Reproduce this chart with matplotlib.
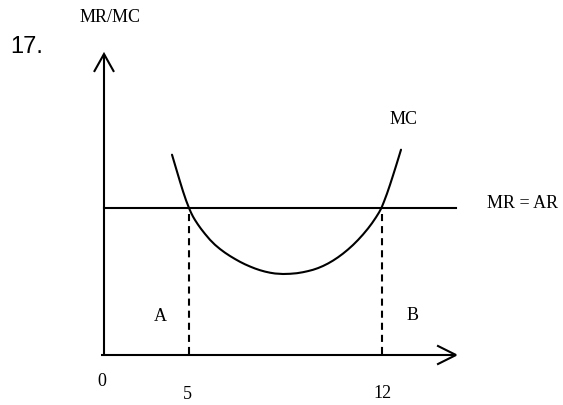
import matplotlib
matplotlib.use("Agg")
import matplotlib.pyplot as plt

# Diagram units: origin at the axes' corner, 1 unit = 10 px
mc_q = [6.80, 7.20, 7.60, 7.90, 8.20, 8.50, 8.70, 8.90, 9.10, 9.40, 9.70, 10.10,
        10.60, 11.10, 11.60, 12.10, 12.60, 13.10, 13.60, 14.10, 14.60, 15.10,
        15.60, 16.10, 16.60, 17.10, 17.90,
        18.60, 19.30, 19.90, 20.40, 20.90, 21.40, 21.90, 22.40, 22.90, 23.40,
        23.90, 24.40, 24.90, 25.40, 25.90, 26.40, 26.80, 27.20, 27.50, 27.75,
        28.00, 28.30, 28.60, 28.90, 29.20, 29.45, 29.70]
mc_p = [20.03, 18.68, 17.34, 16.37, 15.48, 14.70, 14.24, 13.84, 13.50, 13.04,
        12.62, 12.11, 11.52, 11.02, 10.60, 10.23, 9.90, 9.60, 9.32, 9.07, 8.85,
        8.65, 8.48, 8.34, 8.23, 8.15, 8.10,
        8.12, 8.18, 8.28, 8.39, 8.52, 8.69, 8.90, 9.15, 9.44, 9.77, 10.14, 10.55,
        11.00, 11.50, 12.05, 12.65, 13.18, 13.77, 14.25, 14.72, 15.34, 16.14,
        17.02, 17.95, 18.90, 19.71, 20.53]
mr_level = 14.7
mr_q_end = 35.2
q_marks = [8.5, 27.75]
q_labels = ["5", "12"]
x_axis_end = 35.2
y_axis_end = 30.1

SERIF = ["Liberation Serif", "DejaVu Serif"]
SANS = ["Liberation Sans", "DejaVu Sans"]

fig = plt.figure(figsize=(5.63, 4.06), dpi=100)
ax = fig.add_axes([0, 0, 1, 1])
ax.set_xlim(-10.4, 45.9)
ax.set_ylim(-5.0, 35.6)
ax.axis("off")

lw = 1.5
k = "black"
# axes
ax.plot([-0.3, x_axis_end], [0, 0], color=k, lw=lw, solid_capstyle="butt")
ax.plot([0, 0], [0, y_axis_end], color=k, lw=lw, solid_capstyle="butt")
# arrow heads (open V)
ax.plot([x_axis_end - 1.8, x_axis_end, x_axis_end - 1.8], [0.9, 0, -0.9],
        color=k, lw=lw, solid_joinstyle="miter")
ax.plot([-0.95, 0, 0.95], [y_axis_end - 1.7, y_axis_end, y_axis_end - 1.7],
        color=k, lw=lw, solid_joinstyle="miter")

# MR = AR line
ax.plot([0, mr_q_end], [mr_level, mr_level], color=k, lw=lw)
# MC curve
ax.plot(mc_q, mc_p, color=k, lw=lw, solid_joinstyle="round", solid_capstyle="round")
# dashed verticals
for q in q_marks:
    ax.plot([q, q], [mr_level - 0.6, 0], color=k, lw=lw, dashes=(3.4, 2.4))

fs = 13
ax.text(-2.4, 33.9, "MR/MC", family=SERIF, fontsize=fs, ha="left", va="center")
ax.text(-7.73, 30.9, "17.", family=SANS, fontsize=17, ha="center", va="center")
ax.text(28.53, 23.63, "MC", family=SERIF, fontsize=fs, ha="left", va="center")
ax.text(38.27, 15.27, "MR = AR", family=SERIF, fontsize=fs, ha="left", va="center")
ax.text(5.67, 3.93, "A", family=SERIF, fontsize=fs, ha="center", va="center")
ax.text(30.85, 4.05, "B", family=SERIF, fontsize=fs, ha="center", va="center")
ax.text(-0.23, -2.6, "0", family=SERIF, fontsize=fs, ha="center", va="center")
ax.text(q_marks[0] - 0.15, -3.9, q_labels[0], family=SERIF, fontsize=fs, ha="center", va="center")
ax.text(q_marks[1] + 0.05, -3.73, q_labels[1], family=SERIF, fontsize=fs, ha="center", va="center")

fig.savefig("out.png", dpi=100)
